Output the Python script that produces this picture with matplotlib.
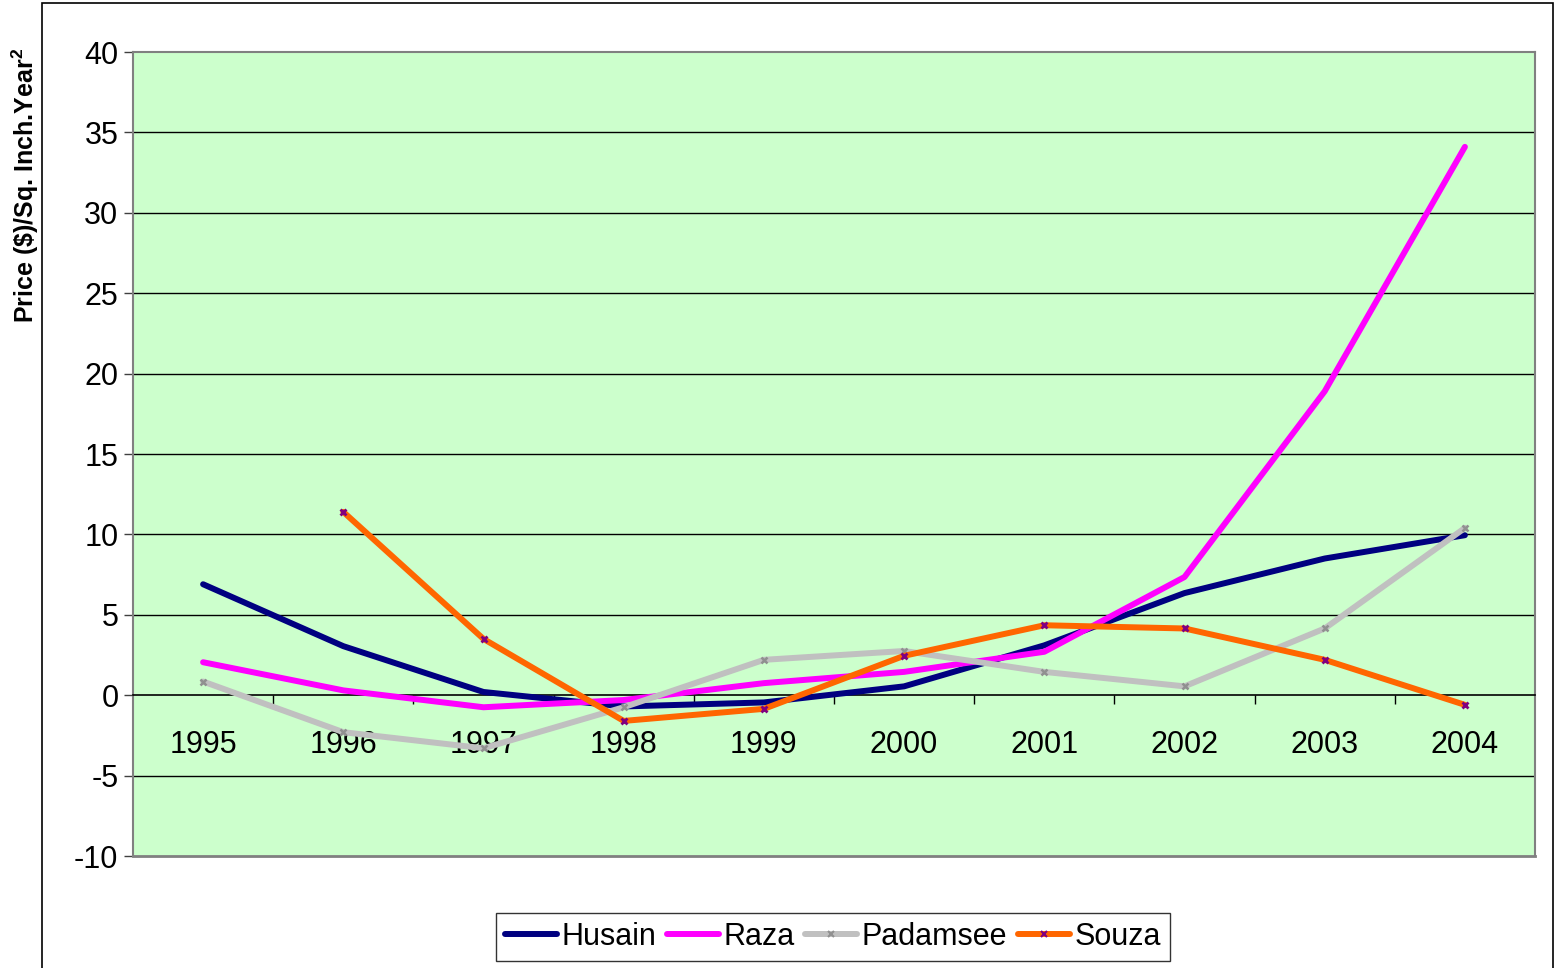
import matplotlib
matplotlib.use("Agg")
import matplotlib.pyplot as plt
from matplotlib.patches import Rectangle
from matplotlib.lines import Line2D
import numpy as np

years = ["1995", "1996", "1997", "1998", "1999", "2000", "2001", "2002", "2003", "2004"]
husain = [6.9, 3.05, 0.2, -0.7, -0.45, 0.55, 3.1, 6.35, 8.5, 9.95]
raza = [2.05, 0.3, -0.75, -0.3, 0.75, 1.45, 2.7, 7.35, 18.9, 34.1]
padamsee = [0.85, -2.3, -3.3, -0.75, 2.2, 2.75, 1.45, 0.55, 4.15, 10.4]
souza = [np.nan, 11.4, 3.5, -1.6, -0.85, 2.45, 4.35, 4.15, 2.2, -0.6]
y_ticks = [-10, -5, 0, 5, 10, 15, 20, 25, 30, 35, 40]

plt.rcParams['font.family'] = ['Liberation Sans', 'DejaVu Sans']
plt.rcParams['mathtext.fontset'] = 'custom'
plt.rcParams['mathtext.bf'] = 'Liberation Sans:bold'
plt.rcParams['mathtext.rm'] = 'Liberation Sans:bold'

W, H = 1562, 968
fig = plt.figure(figsize=(W / 100, H / 100), dpi=100)
fig.patch.set_facecolor("white")

# outer chart border
fig.patches.append(Rectangle((42 / W, -0.05), (1553 - 42) / W, 1.05 - 3 / H,
                             transform=fig.transFigure, fill=False,
                             edgecolor="black", lw=1.2, zorder=0))

ax = fig.add_axes([133 / W, 1 - 856 / H, (1535 - 133) / W, (856 - 52) / H])
ax.set_facecolor("#CCFFCC")

x = np.arange(len(years))
lw = 4.3
ax.plot(x, husain, color="#000080", lw=lw, solid_capstyle="round", zorder=3)
ax.plot(x, raza, color="#FF00FF", lw=lw, solid_capstyle="round", zorder=3)
ax.plot(x, padamsee, color="#C0C0C0", lw=lw, solid_capstyle="round", zorder=3,
        marker="x", markersize=5, markeredgewidth=1.8, markeredgecolor="#909090")
ax.plot(x, souza, color="#FF6600", lw=lw, solid_capstyle="round", zorder=4,
        marker="x", markersize=5, markeredgewidth=2.0, markeredgecolor="#800080")

ax.set_xlim(-0.5, len(years) - 0.5)
ax.set_ylim(-10, 40)
ax.set_yticks(y_ticks)
ax.set_yticklabels([str(v) for v in y_ticks], fontsize=22)
ax.tick_params(axis="y", direction="out", length=6.5, width=1, pad=4, color="#404040")

for v in y_ticks:
    if -10 < v < 40 and v != 0:
        ax.axhline(v, color="black", lw=1.0, zorder=1)

# category axis at y=0
ax.spines["bottom"].set_position(("data", 0))
ax.spines["bottom"].set_color("black")
ax.spines["bottom"].set_linewidth(1.2)
ax.set_xticks(x)
ax.set_xticklabels(years, fontsize=22)
ax.set_xticks(np.arange(0.5, len(years) - 0.5, 1.0), minor=True)
ax.tick_params(axis="x", which="major", length=0, pad=25)
ax.tick_params(axis="x", which="minor", direction="out", length=6.5, width=1, color="black")

for s in ["top", "right", "left"]:
    ax.spines[s].set_color("#808080")
    ax.spines[s].set_linewidth(1.5)

# bottom border of plot area
ax.add_line(Line2D([0, 1], [0, 0], transform=ax.transAxes, color="#808080", lw=2.0, clip_on=False))

fig.text(25 / W, 1 - 185 / H, "Price (\\$)/Sq. Inch.Year$^{\\mathbf{2}}$", rotation=90,
         ha="center", va="center", fontsize=18, fontweight="bold")

handles = [
    Line2D([], [], color="#000080", lw=lw, solid_capstyle="round"),
    Line2D([], [], color="#FF00FF", lw=lw, solid_capstyle="round"),
    Line2D([], [], color="#C0C0C0", lw=lw, solid_capstyle="round", marker="x",
           markersize=4, markeredgewidth=1.5, markeredgecolor="#909090"),
    Line2D([], [], color="#FF6600", lw=lw, solid_capstyle="round", marker="x",
           markersize=4, markeredgewidth=1.5, markeredgecolor="#800080"),
]
leg = fig.legend(handles, ["Husain", "Raza", "Padamsee", "Souza"], ncol=4,
                 loc="center", bbox_to_anchor=(833 / W, 1 - 937 / H),
                 fontsize=22, frameon=True, fancybox=False, handlelength=1.7,
                 handletextpad=0.15, columnspacing=0.35, borderpad=0.3,
                 borderaxespad=0)
leg.get_frame().set_edgecolor("black")
leg.get_frame().set_linewidth(1.0)

fig.savefig("out.png", dpi=100)
